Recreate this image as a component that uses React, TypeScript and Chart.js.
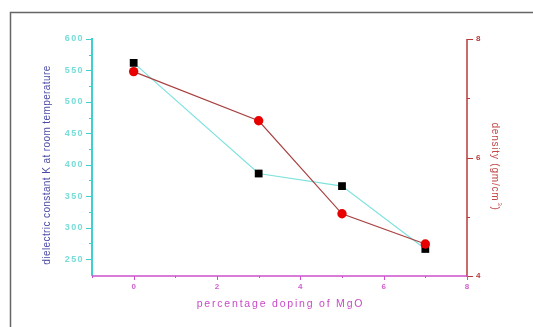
import React, { useEffect, useRef } from "react";
import { Chart, registerables } from "chart.js";

Chart.register(...registerables);

const dopingPercent = [0, 3, 5, 7];
const dielectricK = [562, 386, 366, 266];
const densityValues = [7.45, 6.62, 5.05, 4.54];

const leftTicks = [250, 300, 350, 400, 450, 500, 550, 600];
const leftMinor = [275, 325, 375, 425, 475, 525, 575];
const rightTicks = [4, 6, 8];
const rightMinor = [5, 7];
const xTicks = [0, 2, 4, 6, 8];
const xMinor = [-1, 1, 3, 5, 7];

const FONT = "Arial, 'Liberation Sans', sans-serif";

const axesPlugin = {
  id: "customAxes",
  afterDraw(chart: any) {
    const ctx = chart.ctx as CanvasRenderingContext2D;
    const c = ctx as any;
    const { left, right, bottom } = chart.chartArea;
    const x = chart.scales.x;
    const y = chart.scales.y;
    const y1 = chart.scales.y1;
    ctx.save();

    // frame
    ctx.strokeStyle = "#666666";
    ctx.lineWidth = 1.5;
    ctx.beginPath();
    ctx.moveTo(10.5, 340);
    ctx.lineTo(10.5, 12.5);
    ctx.lineTo(540, 12.5);
    ctx.stroke();

    // left axis
    const cyan = "#3fcfcf";
    ctx.strokeStyle = cyan;
    ctx.lineWidth = 2;
    ctx.beginPath();
    ctx.moveTo(left, y.getPixelForValue(600) - 1);
    ctx.lineTo(left, bottom);
    ctx.stroke();
    ctx.lineWidth = 1;
    ctx.beginPath();
    leftTicks.forEach((v) => {
      const py = Math.round(y.getPixelForValue(v)) + 0.5;
      ctx.moveTo(left - 6, py);
      ctx.lineTo(left, py);
    });
    leftMinor.forEach((v) => {
      const py = Math.round(y.getPixelForValue(v)) + 0.5;
      ctx.moveTo(left - 3, py);
      ctx.lineTo(left, py);
    });
    ctx.stroke();
    ctx.fillStyle = "#78dcd8";
    ctx.font = "bold 9px " + FONT;
    c.letterSpacing = "1.4px";
    ctx.textAlign = "right";
    ctx.textBaseline = "middle";
    leftTicks.forEach((v) => {
      ctx.fillText(String(v), left - 8, y.getPixelForValue(v));
    });
    c.letterSpacing = "0px";

    // left title
    ctx.save();
    ctx.translate(47, 165);
    ctx.rotate(-Math.PI / 2);
    ctx.fillStyle = "#4a4aa8";
    ctx.font = "10px " + FONT;
    c.letterSpacing = "0.4px";
    ctx.textAlign = "center";
    ctx.textBaseline = "middle";
    ctx.fillText("dielectric constant K at room temperature", 0, 0);
    c.letterSpacing = "0px";
    ctx.restore();

    // right axis
    const red = "#b83a3a";
    ctx.strokeStyle = red;
    ctx.lineWidth = 1.5;
    ctx.beginPath();
    ctx.moveTo(right, y1.getPixelForValue(8));
    ctx.lineTo(right, bottom + 1);
    ctx.stroke();
    ctx.lineWidth = 1;
    ctx.beginPath();
    rightTicks.forEach((v) => {
      const py = Math.round(y1.getPixelForValue(v)) + 0.5;
      ctx.moveTo(right, py);
      ctx.lineTo(right + 6, py);
    });
    rightMinor.forEach((v) => {
      const py = Math.round(y1.getPixelForValue(v)) + 0.5;
      ctx.moveTo(right, py);
      ctx.lineTo(right + 3, py);
    });
    ctx.stroke();
    ctx.fillStyle = red;
    ctx.font = "bold 8px " + FONT;
    ctx.textAlign = "left";
    ctx.textBaseline = "middle";
    rightTicks.forEach((v) => {
      ctx.fillText(String(v), right + 9, y1.getPixelForValue(v));
    });

    // right title
    ctx.save();
    ctx.translate(495, 166);
    ctx.rotate(Math.PI / 2);
    ctx.fillStyle = "#c44848";
    ctx.font = "10px " + FONT;
    c.letterSpacing = "0.8px";
    ctx.textAlign = "left";
    ctx.textBaseline = "middle";
    const t1 = "density (gm/cm";
    const w1 = ctx.measureText(t1 + ")").width;
    const startX = -w1 / 2 - 2;
    ctx.fillText(t1, startX, 0);
    const wa = ctx.measureText(t1).width;
    ctx.font = "6px " + FONT;
    ctx.fillText("3", startX + wa + 1, -5);
    const w3 = ctx.measureText("3").width;
    ctx.font = "10px " + FONT;
    ctx.fillText(")", startX + wa + w3 + 1, 0);
    c.letterSpacing = "0px";
    ctx.restore();

    // x axis
    const mag = "#cc4fcc";
    ctx.strokeStyle = mag;
    ctx.lineWidth = 1.5;
    ctx.beginPath();
    ctx.moveTo(left, bottom);
    ctx.lineTo(right, bottom);
    ctx.stroke();
    ctx.lineWidth = 1;
    ctx.beginPath();
    xTicks.forEach((v) => {
      const px = Math.round(x.getPixelForValue(v)) + 0.5;
      ctx.moveTo(px, bottom);
      ctx.lineTo(px, bottom + 4);
    });
    xMinor.forEach((v) => {
      const px = Math.round(x.getPixelForValue(v)) + 0.5;
      ctx.moveTo(px, bottom);
      ctx.lineTo(px, bottom + 2);
    });
    ctx.stroke();
    ctx.fillStyle = "#d060d0";
    ctx.font = "bold 8px " + FONT;
    ctx.textAlign = "center";
    ctx.textBaseline = "middle";
    xTicks.forEach((v) => {
      ctx.fillText(String(v), x.getPixelForValue(v), bottom + 11);
    });

    ctx.fillStyle = "#c848c8";
    ctx.font = "10.5px " + FONT;
    c.letterSpacing = "1.8px";
    ctx.textAlign = "center";
    ctx.fillText("percentage doping of MgO", (left + right) / 2 + 1, bottom + 28);
    c.letterSpacing = "0px";

    ctx.restore();
  },
};

export default function App() {
  const ref = useRef<HTMLCanvasElement | null>(null);
  useEffect(() => {
    if (!ref.current) return;
    const chart = new Chart(ref.current, {
      type: "line",
      data: {
        datasets: [
          {
            label: "density",
            data: dopingPercent.map((d, i) => ({ x: d, y: densityValues[i] })),
            yAxisID: "y1",
            borderColor: "#a84040",
            borderWidth: 1.2,
            backgroundColor: "#e80000",
            pointBackgroundColor: "#e80000",
            pointBorderColor: "#e80000",
            pointStyle: "circle",
            pointRadius: 4.7,
            pointBorderWidth: 0,
          },
          {
            label: "dielectric",
            data: dopingPercent.map((d, i) => ({ x: d, y: dielectricK[i] })),
            yAxisID: "y",
            borderColor: "#7ee2de",
            borderWidth: 1.2,
            backgroundColor: "#000000",
            pointBackgroundColor: "#000000",
            pointBorderColor: "#000000",
            pointStyle: "rect",
            pointRadius: 5.5,
            pointBorderWidth: 0,
          },
        ],
      },
      options: {
        responsive: false,
        animation: false,
        layout: { padding: { left: 92, right: 66, top: 39, bottom: 51 } },
        plugins: { legend: { display: false }, tooltip: { enabled: false } },
        scales: {
          x: { type: "linear", min: -1, max: 8, display: false },
          y: { type: "linear", min: 223, max: 600, display: false },
          y1: { type: "linear", min: 4, max: 8, display: false, position: "right" },
        },
      },
      plugins: [axesPlugin],
    });
    return () => chart.destroy();
  }, []);
  return (
    <div style={{ position: "fixed", left: 0, top: 0, width: 533, height: 327, background: "#fff" }}>
      <canvas ref={ref} width={533} height={327} style={{ display: "block" }} />
    </div>
  );
}
